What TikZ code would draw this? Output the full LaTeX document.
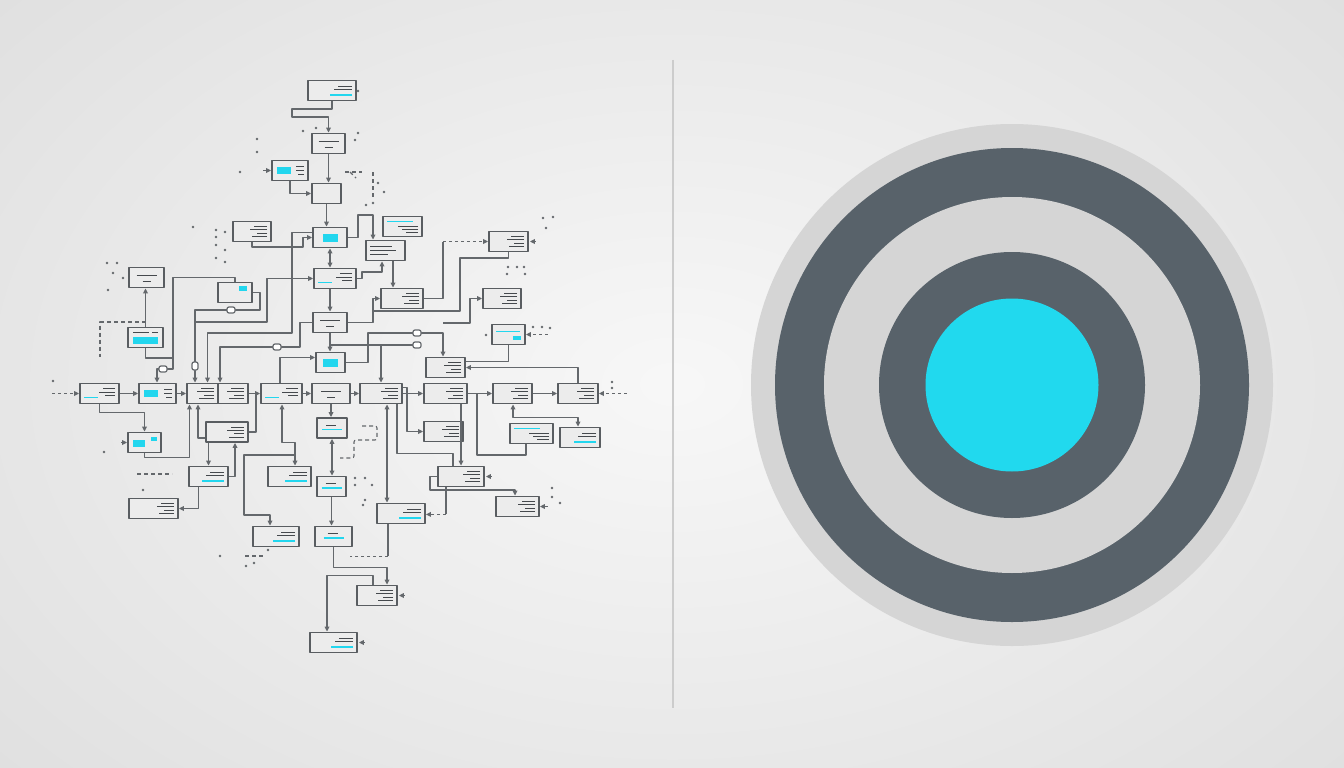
\documentclass[tikz,border=0pt]{standalone}
\usepackage{xcolor}
\usetikzlibrary{arrows.meta}

\definecolor{edge}{HTML}{595D61}
\definecolor{wirec}{HTML}{64686C}
\definecolor{tx}{HTML}{45494D}
\definecolor{hi}{HTML}{22D6EE}
\definecolor{boxbg}{HTML}{ECECEC}
\definecolor{ringdk}{HTML}{58626A}
\definecolor{ringlt}{HTML}{D5D5D5}
\definecolor{bull}{HTML}{21D9EE}

\tikzset{
  blk/.style={draw=edge, line width=1.8pt, fill=boxbg, minimum width=#1pt, minimum height=20pt, inner sep=0pt},
  ln/.style={draw=tx, line width=1pt},
  hl/.style={draw=hi, line width=1.9pt},
  wire/.style={draw=wirec, line width=1.6pt},
  deco/.style={draw=wirec, line width=1.1pt, dash pattern=on 4pt off 3pt},
  pill/.style={draw=wirec, line width=1.2pt, fill=white, rounded corners=2pt, minimum width=8pt, minimum height=6pt, inner sep=0pt},
  txr/.style={path picture={
    \foreach \dy/\len in {5/13,1.7/17,-1.6/10,-5/15}
      \draw[ln] ([shift={(-4pt,\dy pt)}]path picture bounding box.east) -- ++(-\len pt,0);}},
  txc/.style={path picture={
    \draw[ln] ([shift={(-10pt,2pt)}]path picture bounding box.center) -- ++(20pt,0);
    \draw[ln] ([shift={(-4pt,-4pt)}]path picture bounding box.center) -- ++(8pt,0);}},
  txl/.style={path picture={
    \foreach \dy/\len in {4/22,0/26,-4/18}
      \draw[ln] ([shift={(4pt,\dy pt)}]path picture bounding box.west) -- ++(\len pt,0);}},
  cyr/.style={path picture={
    \fill[hi] ([shift={(5pt,-3.5pt)}]path picture bounding box.west) rectangle ++(14pt,7pt);
    \foreach \dy/\len in {4/8,0/8,-4/6}
      \draw[ln] ([shift={(-4pt,\dy pt)}]path picture bounding box.east) -- ++(-\len pt,0);}},
  cyc/.style={path picture={
    \fill[hi] ([shift={(-7.5pt,-4pt)}]path picture bounding box.center) rectangle ++(15pt,8pt);}},
  cyu/.style={path picture={
    \draw[hl] ([shift={(4pt,-4pt)}]path picture bounding box.west) -- ++(14pt,0);
    \foreach \dy/\len in {5/12,1.5/16,-2/10}
      \draw[ln] ([shift={(-4pt,\dy pt)}]path picture bounding box.east) -- ++(-\len pt,0);}},
  cyd/.style={path picture={
    \draw[hl] ([shift={(-4pt,-4.5pt)}]path picture bounding box.east) -- ++(-22pt,0);
    \draw[ln] ([shift={(-4pt,4.5pt)}]path picture bounding box.east) -- ++(-14pt,0);
    \draw[ln] ([shift={(-4pt,1pt)}]path picture bounding box.east) -- ++(-18pt,0);}},
  cyt/.style={path picture={
    \draw[hl] ([shift={(4pt,5pt)}]path picture bounding box.west) -- ++(26pt,0);
    \foreach \dy/\len in {0.5/20,-3/16,-6/12}
      \draw[ln] ([shift={(-4pt,\dy pt)}]path picture bounding box.east) -- ++(-\len pt,0);}},
  cym/.style={path picture={
    \draw[hl] ([shift={(-10pt,-1.5pt)}]path picture bounding box.center) -- ++(20pt,0);
    \draw[ln] ([shift={(-6pt,3pt)}]path picture bounding box.center) -- ++(10pt,0);}},
  cys/.style={path picture={
    \fill[hi] ([shift={(-13pt,2pt)}]path picture bounding box.east) rectangle ++(8pt,5pt);}},
  cy2/.style={path picture={
    \fill[hi] ([shift={(5pt,-4pt)}]path picture bounding box.west) rectangle ++(12pt,7pt);
    \fill[hi] ([shift={(-10pt,2pt)}]path picture bounding box.east) rectangle ++(6pt,4pt);}},
  cy3/.style={path picture={
    \draw[hl] ([shift={(4pt,3pt)}]path picture bounding box.west) -- ++(24pt,0);
    \fill[hi] ([shift={(-12pt,-5pt)}]path picture bounding box.east) rectangle ++(8pt,4pt);}},
  cyb/.style={path picture={
    \fill[hi] ([shift={(5pt,-6pt)}]path picture bounding box.west) rectangle ([shift={(-5pt,1pt)}]path picture bounding box.east);
    \draw[ln] ([shift={(5pt,5pt)}]path picture bounding box.west) -- ++(16pt,0);
    \draw[ln] ([shift={(-5pt,5pt)}]path picture bounding box.east) -- ++(-6pt,0);}}
}

\begin{document}
\begin{tikzpicture}[x=1pt, y=-1pt, >={Triangle[length=5pt,width=4.6pt]}, line join=round]
\begin{scope}
\clip (0,0) rectangle (1344,768);
\shade[inner color=white!97!black, outer color=black!13] (-300,-260) rectangle (1644,1028);
\end{scope}
\useasboundingbox (0,0) rectangle (1344,768);

\node[blk=48,cyd] (n1) at (332,90.5) {};
\node[blk=33,txc] (n2) at (328.5,143.5) {};
\node[blk=36,cyr] (n3) at (290,170.5) {};
\node[blk=29] (n4) at (326.5,193.5) {};
\node[blk=38,txr] (n5) at (252,231.5) {};
\node[blk=34,cyc] (n6) at (330,237.5) {};
\node[blk=39,cyt] (n7) at (402.5,226.5) {};
\node[blk=39,txl] (n8) at (385.5,250.5) {};
\node[blk=39,txr] (n9) at (508.5,241.5) {};
\node[blk=35,txc] (n10) at (146.5,277.5) {};
\node[blk=34,cys] (n11) at (235,292.5) {};
\node[blk=42,cyu] (n12) at (335,278.5) {};
\node[blk=42,txr] (n13) at (402,298.5) {};
\node[blk=38,txr] (n14) at (502,298.5) {};
\node[blk=35,cyb] (n15) at (145.5,337.5) {};
\node[blk=34,txc] (n16) at (330,322.5) {};
\node[blk=33,cy3] (n17) at (508.5,334.5) {};
\node[blk=29,cyc] (n18) at (330.5,362.5) {};
\node[blk=39,txr] (n19) at (445.5,367.5) {};

\node[blk=39,cyu] (r1) at (99.5,393.5) {};
\node[blk=37,cyr] (r2) at (157.5,393.5) {};
\node[blk=31,txr] (r3) at (202.5,393.5) {};
\node[blk=30,txr] (r4) at (233,393.5) {};
\node[blk=41,cyu] (r5) at (281.5,393.5) {};
\node[blk=38,txc] (r6) at (331,393.5) {};
\node[blk=42,txr] (r7) at (381,393.5) {};
\node[blk=43,txr] (r8) at (445.5,393.5) {};
\node[blk=39,txr] (r9) at (512.5,393.5) {};
\node[blk=40,txr] (r10) at (578,393.5) {};

\node[blk=33,cy2] (n21) at (144.5,442.5) {};
\node[blk=42,txr] (n22) at (227,432) {};
\node[blk=30,cym] (n23) at (332,428) {};
\node[blk=39,txr] (n24) at (443.5,431.5) {};
\node[blk=43,cyt] (n25) at (531.5,433.5) {};
\node[blk=40,cyd] (n26) at (580,437.5) {};
\node[blk=39,cyd] (n27) at (208.5,476.5) {};
\node[blk=43,cyd] (n28) at (289.5,476.5) {};
\node[blk=46,txr] (n29) at (461,476.5) {};
\node[blk=29,cym] (n30) at (331.5,486.5) {};
\node[blk=49,txr] (n31) at (153.5,508.5) {};
\node[blk=48,cyd] (n32) at (401,513.5) {};
\node[blk=43,txr] (n33) at (517.5,506.5) {};
\node[blk=46,cyd] (n34) at (276,536.5) {};
\node[blk=37,cym] (n35) at (333.5,536.5) {};
\node[blk=40,txr] (n36) at (377,595.5) {};
\node[blk=47,cyd] (n37) at (333.5,642.5) {};

\coordinate (k2) at (443,323);
\coordinate (k3) at (330,345);
\coordinate (k4) at (295,455);
\coordinate (k7) at (477,393.5);

\draw[wire,->] (n1.south) |- (292,109) |- (328.5,117) -- (n2.north);
\draw[wire,->] (n2.south) -- (n2.south |- n4.north);
\draw[wire,->] (n3.south) |- (n4.west);
\draw[wire,->] (n4.south) -- (n4.south |- n6.north);
\draw[wire,->] (n5.south) |- (303,247) |- (n6.west);
\draw[wire,->] ([yshift=5pt]n6.west) -| (292,333) -| ([xshift=5pt]r3.north);
\draw[wire,<->] (n6.south) -- (n6.south |- n12.north);
\draw[wire,->] (n6.east) -| (358,215) -| ([xshift=-12.5pt]n8.north);
\draw[wire,->] (n12.east) -| (362,272) -| ([xshift=-3.5pt]n8.south);
\draw[wire,->] ([xshift=7.5pt]n8.south) -- ([xshift=7.5pt]n8.south |- n13.north);
\draw[wire] (n13.east) -| (443,241.5) coordinate (k1);
\draw[wire,dashed,->] (k1) -- (n9.west);
\draw[wire] (n9.south) |- (460,258) |- (373,311);
\draw[wire,->] (n16.east) -| (373,298.5) -- (n13.west);
\draw[wire,->] (k2) -| (470,298.5) -- (n14.west);
\draw[wire] (n17.south) |- ([yshift=6pt]n19.east);
\draw[wire,->] (r10.north) |- (n19.east);
\draw[wire,->] ([xshift=-5pt]n12.south) -- ([xshift=-5pt]n12.south |- n16.north);
\draw[wire,->] (n16.south) -- (n16.south |- n18.north);
\draw[wire,->] (n18.east) -| (368,333) -| ([xshift=-2.5pt]n19.north);
\draw[wire] (k3) -- (420,345);
\draw[wire,->] (k3 -| r7.north) -- (r7.north);
\draw[wire,->] ([xshift=-1.5pt]r5.north) |- ([yshift=5pt]n18.west);
\draw[wire,<->] (n12.west) -| (267,322) -| ([xshift=-7.5pt]r3.north);
\draw[wire,->] (n16.west) -| (300,347) -| ([xshift=-13pt]r4.north);
\draw[wire,->] (n15.north) -- (n15.north |- n10.south);
\draw[wire,->] (n11.north) -- ++(0,-4) -| (173,369) -| ([xshift=-0.5pt]r2.north);
\draw[wire] (n15.south) |- (173,358);
\draw[wire] (n11.east) -| (260,310) -| (195,322);

\foreach \a/\b in {r1/r2, r2/r3, r4/r5, r5/r6, r6/r7, r7/r8, r8/r9, r9/r10}
  \draw[wire,->] (\a.east) -- (\b.west);
\draw[wire,dashed,->] ([xshift=-27pt]r1.west) -- (r1.west);
\draw[wire,dashed,->] ([xshift=28pt]r10.east) -- (r10.east);

\draw[wire,->] (r1.south) -- ++(0,8) -| (n21.north);
\draw[wire,->] (n21.south) -- ++(0,4) -| ([xshift=-13pt]r3.south);
\draw[wire,->] ([yshift=-6pt]n22.west) -| ([xshift=-4.5pt]r3.south);
\draw[wire,->] (n22.south -| n27.north) -- (n27.north);
\draw[wire,->] (n27.east) -| ([xshift=8pt]n22.south);
\draw[wire] (n22.east) -| (256,393.5);
\draw[wire,->] ([xshift=-10pt]n27.south) |- (n31.east);
\draw[wire,<->] ([xshift=0.5pt]r5.south) -- ++(0,38) -| ([xshift=5.5pt]n28.north);
\draw[wire,->] (k4) -| (244,515) -| ([xshift=-6pt]n34.north);
\draw[wire,->] (r6.south) -- (r6.south |- n23.north);
\draw[wire,<->] (n23.south) -- (n23.south |- n30.north);
\draw[wire,->] (n30.south) -- (n30.south |- n35.north);
\draw[wire,->] (n35.south) -- ++(0,20) -| ([xshift=10pt]n36.north);
\draw[wire,->] ([xshift=-4pt]n36.north) -- ++(0,-9) -| ([xshift=-6.5pt]n37.north);
\draw[wire,<->] ([xshift=6pt]r7.south) -- ([xshift=6pt]r7.south |- n32.north);
\draw[wire] ([xshift=-13pt]n32.south) -- ++(0,32) coordinate (k5);
\draw[wire,dashed] (k5) -- ++(-38,0);
\draw[wire] ([xshift=16pt]r7.south) -- ++(0,49) -| ([xshift=-8pt]n29.north);
\draw[wire,->] ([yshift=6pt]r7.east) -- ++(4,0) |- (n24.west);
\draw[wire,->] (n29.north |- r8.south) -- (n29.north);
\draw[wire,->] (n29.west) -| (430,490) -| ([xshift=-2.5pt]n33.north);
\draw[wire] ([xshift=-15pt]n29.south) -- ++(0,27) coordinate (k6);
\draw[wire,dashed,->] (k6) -- (n32.east |- k6);
\draw[wire] (k7) |- (526,455) -- ([xshift=-5.5pt]n25.south);
\draw[wire,<->] ([xshift=0.5pt]r9.south) -- ++(0,13) -| ([xshift=-2pt]n26.north);

\draw[wire,->] ([xshift=-8pt]n3.west) -- (n3.west);
\draw[wire,dashed,->] ([xshift=22pt]n17.east) -- (n17.east);
\draw[wire,->] ([xshift=8pt]n33.east) -- (n33.east);
\draw[wire,->] ([xshift=-6pt]n21.west) -- (n21.west);
\foreach \i in {n9,n29,n36,n37}
  \draw[wire,->] ([xshift=6pt]\i.east) -- ([xshift=1pt]\i.east);

\draw[deco] (n15.north |- 0,322) -- (100,322) -- (100,357);
\draw[deco, rounded corners=2pt] (362,426) -- (377,426) -- (377,440) -- (354,440) -- (354,458) -- (340,458);
\draw[deco] (345,172) -- (362,172);
\draw[deco] (373,172) -- (373,198);
\draw[deco] (137,474) -- (172,474);
\draw[deco] (245,556) -- (263,556);
\draw[deco] (350,172) -- (356,178);

\node[pill] (p1) at (163,369) {};
\node[pill] (p2) at (231,310) {};
\node[pill, minimum width=6pt, minimum height=8pt] (p3) at (195,366) {};
\node[pill] (p4) at (277,347) {};
\node[pill] (p5) at (417,333) {};
\node[pill] (p6) at (417,345) {};

\foreach \p in {(358,91),(257,139),(257,152),(240,172),(303,131),(316,128),(358,133),(355,140),
  (193,227),(216,230),(216,237),(216,245),(225,232),(225,250),(216,258),(225,262),(366,205),(373,203),
  (543,218),(553,217),(546,228),(508,267),(517,267),(524,267),(507,274),(525,274),(533,327),(542,327),
  (550,328),(107,263),(117,263),(113,273),(108,290),(53,381),(104,452),(143,490),(220,556),(246,566),
  (254,563),(355,478),(365,478),(355,485),(372,485),(365,500),(363,505),(552,488),(552,497),(560,503),
  (612,382),(612,388),(486,335),(378,183),(384,192),(123,278),(268,550)}
  \fill[wirec] \p circle (1.3pt);

\draw[black!20, line width=1.2pt] (673,60) -- (673,708);

\fill[ringlt] (1012,385) circle (261pt);
\fill[ringdk] (1012,385) circle (237pt);
\fill[ringlt] (1012,385) circle (188pt);
\fill[ringdk] (1012,385) circle (133pt);
\fill[bull] (1012,385) circle (86.5pt);
\end{tikzpicture}
\end{document}
